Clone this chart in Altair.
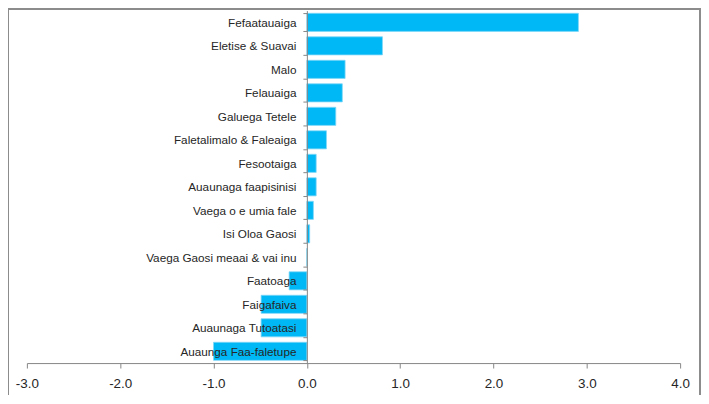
import altair as alt
import pandas as pd

categories = [
    "Fefaatauaiga",
    "Eletise & Suavai",
    "Malo",
    "Felauaiga",
    "Galuega Tetele",
    "Faletalimalo & Faleaiga",
    "Fesootaiga",
    "Auaunaga faapisinisi",
    "Vaega o e umia fale",
    "Isi Oloa Gaosi",
    "Vaega Gaosi meaai & vai inu",
    "Faatoaga",
    "Faigafaiva",
    "Auaunaga Tutoatasi",
    "Auaunga Faa-faletupe",
]
values = [2.91, 0.81, 0.41, 0.38, 0.31, 0.21, 0.10, 0.10, 0.07, 0.03, 0.0,
          -0.19, -0.49, -0.49, -1.0]
x_ticks = [-3, -2, -1, 0, 1, 2, 3, 4]

df = pd.DataFrame({"cat": categories, "val": values})

W, H = 697, 388
FONT = "Liberation Sans"
AX = "#868686"
TXT = "#262626"

x_scale = alt.Scale(domain=[-3, 4], range=[19, 676], nice=False, zero=False)
y_scale = alt.Scale(domain=categories, range=[1.5, 356], paddingInner=0.23,
                    paddingOuter=0.115)

bars = alt.Chart(df).mark_bar(
    color="#00B8F5", stroke="#7FD6F8", strokeWidth=0.8
).encode(
    x=alt.X("val:Q", scale=x_scale, axis=alt.Axis(
        orient="bottom", offset=-32, values=x_ticks,
        labelExpr="replace(format(datum.value, '.1f'), '\u2212', '-')",
        grid=False, domainColor=AX, tickColor=AX, tickSize=5,
        labelFlush=False, labelOverlap=False,
        labelFont=FONT, labelFontSize=13.5, labelColor=TXT, labelPadding=9,
        title=None)),
    x2=alt.datum(0),
    y=alt.Y("cat:N", scale=y_scale, sort=categories, axis=alt.Axis(
        orient="left", offset=-300.6, grid=False, domainColor=AX,
        tickColor=AX, tickSize=4, tickBand="extent", labelFont=FONT,
        labelFontSize=11.8, labelColor=TXT, labelPadding=7, zindex=1,
        title=None)),
)

frame_top = alt.Chart(df).mark_rule(color="#8c8c8c", strokeWidth=1.2).encode(
    x=alt.value(0), x2=alt.value(W), y=alt.value(0))
frame_left = alt.Chart(df).mark_rule(color="#8c8c8c", strokeWidth=1.2).encode(
    x=alt.value(0), y=alt.value(0), y2=alt.value(H))
frame_right = alt.Chart(df).mark_rule(color="#8c8c8c", strokeWidth=1.2).encode(
    x=alt.value(W - 1), y=alt.value(0), y2=alt.value(H))

chart = alt.layer(bars, frame_top, frame_left, frame_right).properties(
    width=W, height=H, padding=0, autosize=alt.AutoSizeParams(type="none"),
    background="white",
).configure_view(stroke=None)

chart.save("out.html", embed_options={"renderer": "svg", "actions": False})
